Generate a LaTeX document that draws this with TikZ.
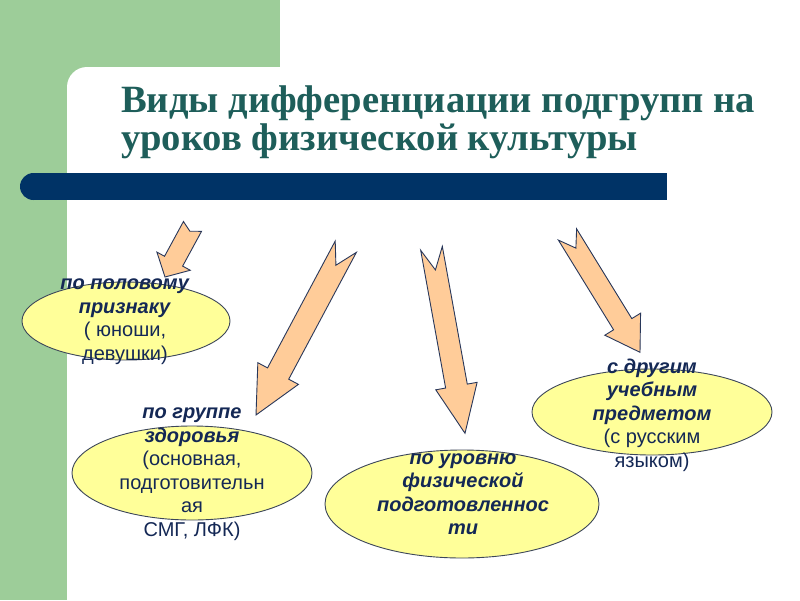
\documentclass[tikz,border=0pt]{standalone}
\usepackage{fontspec}
\setmainfont{Liberation Serif}
\setsansfont{Liberation Sans}
\usetikzlibrary{calc,shapes.geometric}
\definecolor{gr}{RGB}{157,205,153}
\definecolor{navy}{RGB}{0,51,102}
\definecolor{peach}{RGB}{255,204,153}
\definecolor{aline}{RGB}{40,55,90}
\definecolor{ellfill}{RGB}{255,255,153}
\definecolor{eline}{RGB}{60,70,90}
\definecolor{txt}{RGB}{20,40,85}
\definecolor{ttl}{RGB}{30,94,90}
\newcommand{\barrow}[6]{%
  \coordinate (bb) at ($(#2)!#5!(#1)$);
  \filldraw[blockarrow] ($(#1)!#3!90:(#2)$) -- ($(#1)!#6!(#2)$) -- ($(#1)!#3!-90:(#2)$) -- ($(bb)!#3!-90:(#2)$) -- ($(bb)!#4!-90:(#2)$) -- (#2) -- ($(bb)!#4!90:(#2)$) -- ($(bb)!#3!90:(#2)$) -- cycle;
}
\tikzset{
  blockarrow/.style={fill=peach,draw=aline,line width=0.9pt,line join=miter},
  oval/.style={ellipse,fill=ellfill,draw=eline,line width=0.9pt,inner sep=0pt},
  lbl/.style={align=center,text=txt,font=\sffamily\fontsize{20}{23.5}\selectfont,inner sep=0pt},
  title/.style={text=ttl,font=\bfseries\fontsize{38.6}{40}\selectfont,inner sep=0pt},
}
\newcommand{\bi}[1]{\textbf{\textit{#1}}}
\begin{document}
\begin{tikzpicture}[x=1pt,y=-1pt]
\useasboundingbox (0,0) rectangle (800,600);
\fill[white] (0,0) rectangle (800,600);
% background
\fill[gr] (0,0) rectangle (280,100);
\fill[gr] (0,0) rectangle (67,600);
\fill[white,rounded corners=20pt] (67,67) rectangle (830,630);
% bar
\fill[navy] (33.5,173) rectangle (667,200);
\fill[navy] (33.5,186.5) circle (13.5);
% title
\node[title,anchor=base west] (t1) at (121,112) {Виды дифференциации подгрупп на};
\node[title,anchor=base west] (t2) at (121,150) {уроков физической культуры};
% arrows
\coordinate (a1t) at (192.5,226.4); \coordinate (a1p) at (165,277);
\coordinate (a2t) at (345.8,246.7); \coordinate (a2p) at (256,415);
\coordinate (a3t) at (431.5,248.3); \coordinate (a3p) at (465,433.3);
\coordinate (a4t) at (567.5,234.5); \coordinate (a4p) at (640,352.3);
\barrow{a1t}{a1p}{10.3pt}{19pt}{18pt}{5.5pt}
\barrow{a2t}{a2p}{12pt}{23pt}{47pt}{21pt}
\barrow{a3t}{a3p}{11pt}{21pt}{48pt}{22pt}
\barrow{a4t}{a4p}{10.7pt}{21pt}{33pt}{16pt}
% ellipses
\node[oval,minimum width=208pt,minimum height=78pt] (e1) at (126,321) {};
\node[oval,minimum width=240pt,minimum height=94pt] (e2) at (192,473) {};
\node[oval,minimum width=274pt,minimum height=108pt] (e3) at (462,504) {};
\node[oval,minimum width=240pt,minimum height=86pt] (e4) at (652,412) {};
% labels
\node[lbl] (l1) at (125,321.5) {\bi{по половому}\\\bi{признаку}\\( юноши,\\девушки)};
\node[lbl] (l2) at (192,474) {\bi{по группе}\\\bi{здоровья}\\(основная,\\подготовительн\\ая\\СМГ, ЛФК)};
\node[lbl] (l3) at (463,494) {\bi{по уровню}\\\bi{физической}\\\bi{подготовленнос}\\\bi{ти}};
\node[lbl] (l4) at (652,415) {\bi{с другим}\\\bi{учебным}\\\bi{предметом}\\(с русским\\языком)};
\end{tikzpicture}
\end{document}
